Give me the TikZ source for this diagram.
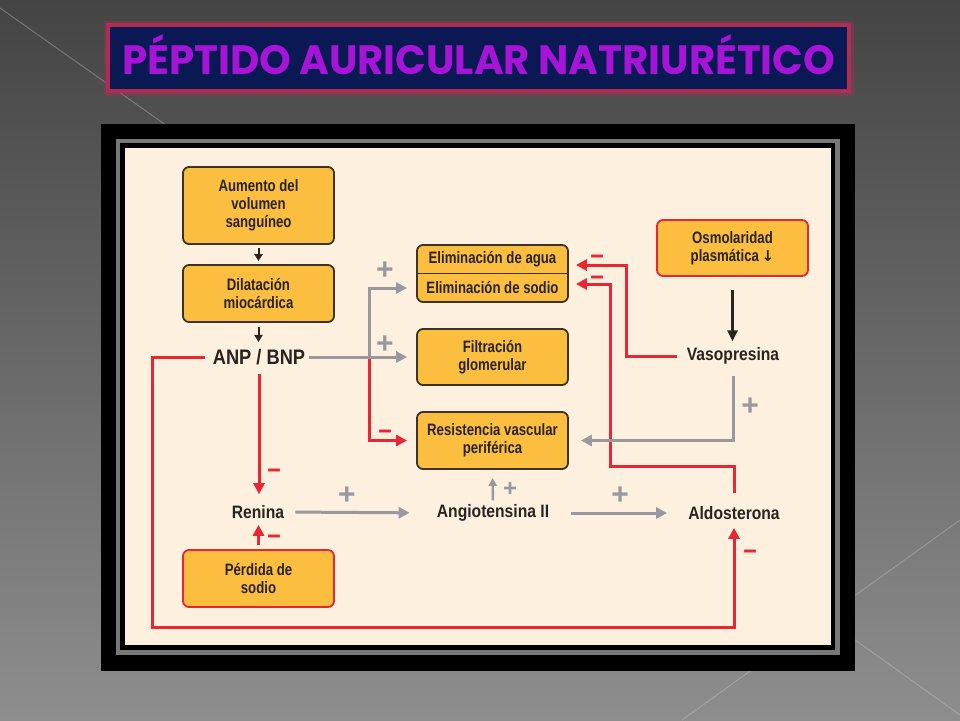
\documentclass[tikz,border=0pt]{standalone}
\usepackage{fontspec}
\usepackage{graphicx}
\setmainfont{Liberation Sans}
\newfontfamily\condfont[FakeStretch=0.87]{Liberation Sans}
\newfontfamily\boxfont[FakeStretch=0.8]{Liberation Sans}
\newfontfamily\signfont{Liberation Sans}
\newfontfamily\minusfont[FakeStretch=2.2,FakeBold=2]{Liberation Sans}
\newfontfamily\titlefont[FakeStretch=0.88]{Poppins}
\newfontfamily\symfont{DejaVu Sans}
\usetikzlibrary{arrows.meta}
\definecolor{bgtop}{RGB}{68,68,68}
\definecolor{bgbot}{RGB}{142,142,142}
\definecolor{navy}{RGB}{10,24,84}
\definecolor{titlered}{RGB}{175,45,85}
\definecolor{titlepurple}{RGB}{165,20,215}
\definecolor{cream}{RGB}{253,240,223}
\definecolor{bandgray}{RGB}{120,120,120}
\definecolor{boxfill}{RGB}{251,190,62}
\definecolor{boxline}{RGB}{60,50,38}
\definecolor{diagred}{RGB}{232,38,52}
\definecolor{diaggray}{RGB}{152,152,158}
\definecolor{diagtext}{RGB}{42,36,32}
\newcommand\boxfnt{\boxfont\bfseries\fontsize{16.5}{18}\selectfont}
\newcommand\lblfnt{\condfont\bfseries\fontsize{18}{20}\selectfont}
\newcommand\anpfnt{\condfont\bfseries\fontsize{21}{23}\selectfont}
\newcommand\plusfnt{\signfont\bfseries\fontsize{30}{30}\selectfont}
\newcommand\smallplusfnt{\signfont\bfseries\fontsize{24}{24}\selectfont}
\newcommand\minusfnt{\minusfont\bfseries\fontsize{20}{20}\selectfont}
\begin{document}
\begin{tikzpicture}[x=1pt,y=-1pt,
  box/.style={draw=boxline, line width=1.8pt, fill=boxfill, rounded corners=6pt, minimum width=151pt, align=center, font=\boxfnt, text=diagtext, inner sep=0pt},
  redbox/.style={box, draw=diagred},
  boxtext/.style={font=\boxfnt, text=diagtext, inner sep=0pt},
  lbl/.style={font=\lblfnt, text=diagtext, inner sep=0pt},
  dk/.style={draw=diagtext, line width=2pt, -{Triangle[length=7pt,width=8pt]}},
  dkbig/.style={draw=diagtext, line width=2.6pt, -{Triangle[length=11pt,width=10pt]}},
  ga/.style={draw=diaggray, line width=3pt, -{Triangle[length=11pt,width=11pt]}},
  gasmall/.style={draw=diaggray, line width=2.4pt, -{Triangle[length=8pt,width=8pt]}},
  ra/.style={draw=diagred, line width=3pt, -{Triangle[length=11pt,width=11pt]}},
  plus/.style={text=diaggray, font=\plusfnt, inner sep=0pt},
  smallplus/.style={text=diaggray, font=\smallplusfnt, inner sep=0pt},
  minus/.style={text=diagred, font=\minusfnt, inner sep=0pt, yshift=-2pt}]
\useasboundingbox (0,0) rectangle (960,720);
% background
\shade[top color=bgtop, bottom color=bgbot] (0,0) rectangle (960,720);
\draw[white, opacity=0.25, line width=1pt] (0,8) -- (180,135);
\draw[white, opacity=0.2, line width=1pt] (960,520) -- (682,720);
\draw[white, opacity=0.2, line width=1pt] (830,622) -- (960,715);
% title
\draw[titlered, opacity=0.35, line width=9pt] (108,25) rectangle (849,91);
\fill[titlered] (106,23) rectangle (851,93);
\fill[navy] (110,27) rectangle (847,89);
\node[anchor=base west, inner sep=0pt, text=titlepurple] (title) at (122,74)
  {\resizebox{713pt}{40pt}{\titlefont\bfseries PÉPTIDO AURICULAR NATRIURÉTICO}};
% frame
\fill[black] (101,124) rectangle (855,671);
\draw[bandgray, line width=4.5pt] (118,141) rectangle (837.5,652.5);
\fill[cream] (125,148) rectangle (831,645);
% nodes
\node[box, minimum height=77pt] (vol) at (258.5,205.5) {Aumento del\\volumen\\sanguíneo};
\node[box, minimum height=57pt] (dil) at (258.5,293.5) {Dilatación\\miocárdica};
\node[lbl, font=\anpfnt] (anp) at (259,357) {ANP / BNP};
\node[box, minimum height=57pt] (elim) at (492.5,273.5) {};
\draw[boxline, line width=1.5pt] (elim.west) -- (elim.east);
\node[boxtext] (elimA) at (492.5,259.5) {Eliminación de agua};
\node[boxtext] (elimS) at (492.5,288) {Eliminación de sodio};
\node[box, minimum height=56pt] (filt) at (492.5,357) {Filtración\\glomerular};
\node[box, minimum height=57pt] (resist) at (492.5,440.5) {Resistencia vascular\\periférica};
\node[redbox, minimum height=56pt] (osmo) at (732.5,248) {Osmolaridad\\plasmática\,{\symfont\bfseries\fontsize{15}{15}\selectfont ↓}};
\node[lbl] (vaso) at (733,356) {Vasopresina};
\node[lbl] (ren) at (258,512) {Renina};
\node[lbl] (ang) at (493,513) {Angiotensina II};
\node[lbl] (aldo) at (734,513) {Aldosterona};
\node[redbox, minimum height=57pt] (perd) at (258.5,578.5) {Pérdida de\\sodio};
% coordinates
\coordinate (j) at (369,357);
\coordinate (lb) at (152,627);
\coordinate (va) at (626,265);
\coordinate (ab) at (610,466);
\coordinate (ac) at (610,284);
% connectors
\draw[dk, shorten <=3pt, shorten >=3pt] (vol.south) -- (dil.north);
\draw[dk, shorten <=4pt, shorten >=7pt] (dil.south) -- (dil.south |- anp.north);
\draw[ra, shorten >=9pt] (j) |- (resist.west);
\draw[ga, shorten >=9pt] (j) |- (elim.west |- elimS);
\draw[ga, shorten <=4pt, shorten >=9pt] (anp.east) -- (filt.west);
\draw[ra, shorten <=8pt, shorten >=8pt] (anp.west) -| (lb) -| (aldo.south);
\draw[ra, shorten <=9pt, shorten >=11pt] (anp.south) -- (anp.south |- ren.north);
\draw[ra, shorten <=4pt, shorten >=6pt] (perd.north) -- (perd.north |- ren.south);
\draw[ga, shorten <=11pt, shorten >=27pt] (ren.east) -- (ang.west);
\draw[ga, shorten <=22pt, shorten >=21pt] (ang.east) -- (aldo.west);
\draw[gasmall, shorten <=4pt, shorten >=8pt] (ang.north) -- (resist.south);
\draw[dkbig, shorten <=13pt, shorten >=6pt] (osmo.south) -- (osmo.south |- vaso.north);
\draw[ra, shorten <=10pt, shorten >=7pt] (vaso.west) -| (va) -- (elim.east |- va);
\draw[ra, shorten <=13pt, shorten >=7pt] (aldo.north) |- (ab) -- (ac) -- (elim.east |- ac);
\draw[ga, shorten <=11pt, shorten >=12pt] (vaso.south) |- (resist.east);
% signs
\node[plus] (p1) at (385,271) {+};
\node[plus] (p2) at (385,345) {+};
\node[minus] (m1) at (385,431) {-};
\node[minus] (m2) at (274,470) {-};
\node[minus] (m3) at (274,536) {-};
\node[plus] (p3) at (347,496) {+};
\node[plus] (p4) at (620,496) {+};
\node[smallplus] (p5) at (510,489) {+};
\node[plus] (p6) at (750,407) {+};
\node[minus] (m4) at (597,256) {-};
\node[minus] (m5) at (597,277) {-};
\node[minus] (m6) at (750,551) {-};
\end{tikzpicture}
\end{document}
